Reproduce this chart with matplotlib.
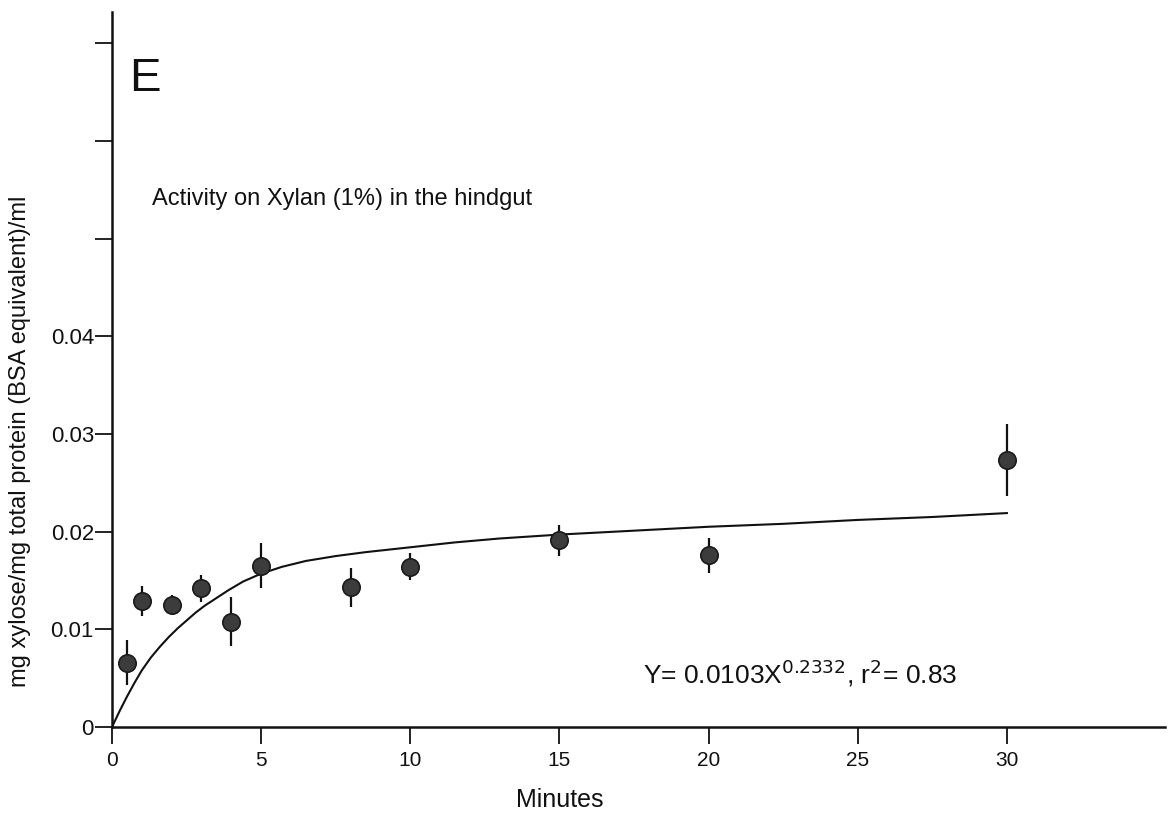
import numpy as np
import matplotlib
matplotlib.use('Agg')
import matplotlib.pyplot as plt

plt.rcParams['font.family'] = ['Liberation Sans', 'DejaVu Sans']

# measured activity (mean and error bar half-length)
minutes = [0.5, 1, 2, 3, 4, 5, 8, 10, 15, 20, 30]
activity = [0.0066, 0.0129, 0.0125, 0.0142, 0.0108, 0.0165, 0.0143, 0.0164, 0.0191, 0.0176, 0.0273]
err = [0.0023, 0.0015, 0.0010, 0.0014, 0.0025, 0.0023, 0.0020, 0.0014, 0.0016, 0.0018, 0.0037]

# fitted curve as drawn in the figure
fit_x = [0, 0.25, 0.5, 0.75, 1, 1.3, 1.6, 1.9, 2.2, 2.5, 2.8, 3.1, 3.5, 3.9, 4.4, 5,
         5.7, 6.5, 7.5, 8.5, 10, 11.5, 13, 15, 17.5, 20, 22.5, 25, 27.5, 30]
fit_y = [0, 0.0016, 0.0031, 0.0045, 0.0058, 0.0071, 0.0082, 0.0092, 0.0101, 0.0109,
         0.0117, 0.0124, 0.0132, 0.0140, 0.0149, 0.0157, 0.0164, 0.0170, 0.0175, 0.0179,
         0.0184, 0.0189, 0.0193, 0.0197, 0.0201, 0.0205, 0.0208, 0.0212, 0.0215, 0.0219]

yticks = [0, 0.01, 0.02, 0.03, 0.04, 0.05, 0.06, 0.07]
ylabels = ['0', '0.01', '0.02', '0.03', '0.04', '', '', '']
xticks = [0, 5, 10, 15, 20, 25, 30]

fig = plt.figure(figsize=(11.73, 8.16), dpi=100)
ax = fig.add_axes([112/1173, 89/816, 1053/1173, 715/816])

ax.plot(fit_x, fit_y, color='#111111', lw=1.5, zorder=2)
ax.errorbar(minutes, activity, yerr=err, fmt='o', color='#111111', ecolor='#111111',
            elinewidth=1.6, capsize=0, markersize=12.5, markerfacecolor='#3c3c3c',
            markeredgecolor='#1a1a1a', markeredgewidth=1.2, zorder=3)

ax.set_xlim(0, 35.3)
ax.set_ylim(0, 0.0732)
ax.set_xticks(xticks)
ax.set_xticklabels([str(t) for t in xticks])
ax.set_yticks(yticks)
ax.set_yticklabels(ylabels)

for s in ['top', 'right']:
    ax.spines[s].set_visible(False)
for s in ['left', 'bottom']:
    ax.spines[s].set_linewidth(1.8)
    ax.spines[s].set_color('#111111')

ax.tick_params(axis='both', direction='out', length=12, width=1.3, color='#111111',
               labelsize=15, labelcolor='#111111')
ax.tick_params(axis='y', pad=1, labelsize=16)
ax.tick_params(axis='x', pad=5)

ax.set_xlabel('Minutes', fontsize=18, color='#111111')
ax.xaxis.set_label_coords(15/35.3, -0.085)
ax.set_ylabel('mg xylose/mg total protein (BSA equivalent)/ml', fontsize=17, color='#111111')
ax.yaxis.set_label_coords(-0.077, 0.40)

ax.text(1.1, 0.0663, 'E', fontsize=34, ha='center', va='center', color='#111111')
ax.text(1.35, 0.0541, 'Activity on Xylan (1%) in the hindgut', fontsize=17,
        ha='left', va='center', color='#111111')
ax.text(17.8, 0.0055, r'Y= 0.0103X$^{0.2332}$, r$^{2}$= 0.83', fontsize=19,
        ha='left', va='center', color='#111111')

fig.savefig('out.png', dpi=100)
